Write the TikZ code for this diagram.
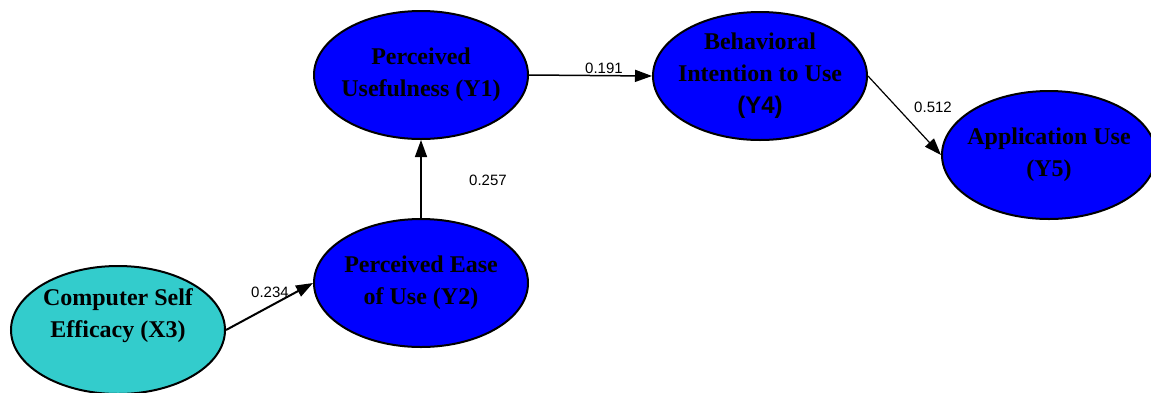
\documentclass[tikz,border=0pt]{standalone}
\usepackage{fontspec}
\setmainfont{Liberation Serif}
\newfontfamily\lsans{Liberation Sans}
\usetikzlibrary{arrows.meta,shapes.geometric}
\definecolor{semblue}{RGB}{0,0,255}
\definecolor{semteal}{RGB}{51,204,204}
\tikzset{
  latent/.style={ellipse, draw=black, line width=2pt, fill=semblue, inner sep=-40pt,
    minimum width=214pt, minimum height=128pt, align=center,
    font=\fontsize{24}{32}\selectfont\bfseries},
  exog/.style={latent, fill=semteal},
  nodetext/.style={align=center, inner sep=0pt, font=\fontsize{24}{32}\selectfont\bfseries},
  path/.style={draw=black, line width=1.5pt, -{Triangle[length=17pt,width=12pt]}},
  coef/.style={font=\lsans\fontsize{15}{18}\selectfont, inner sep=0pt}
}
\begin{document}
\begin{tikzpicture}[x=1pt,y=-1pt]
\useasboundingbox (0,0) rectangle (1151,392);
\node[exog] (x3) at (118,330) {};
\node[nodetext] (x3t) at (118,316) {Computer Self\\Efficacy (X3)};
\node[latent] (y2) at (421,283) {Perceived Ease\\of Use (Y2)};
\node[latent] (y1) at (421,75) {Perceived\\Usefulness (Y1)};
\node[latent] (y4) at (760,76) {Behavioral\\Intention to Use\\{\lsans (Y4)}};
\node[latent] (y5) at (1049,155) {Application Use\\(Y5)};
\draw[path, line width=2pt] (x3.east) -- (y2.west);
\draw[path] (y2.north) -- (y1.south);
\draw[path] (y1.east) -- (y4.west);
\draw[path, line width=1.2pt] (y4.east) -- (y5.west);
\node[coef] (c234) at (270,292) {0.234};
\node[coef] (c257) at (488,180) {0.257};
\node[coef] (c191) at (604,68) {0.191};
\node[coef] (c512) at (933,107) {0.512};
\end{tikzpicture}
\end{document}
